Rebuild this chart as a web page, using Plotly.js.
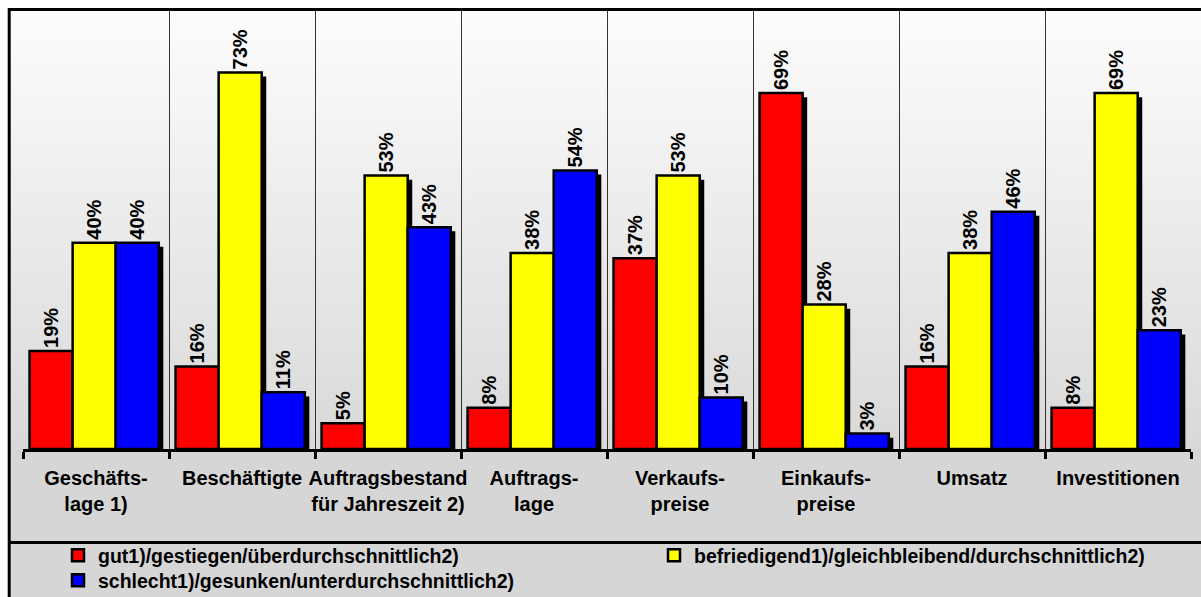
<!DOCTYPE html>
<html><head><meta charset="utf-8">
<script src="https://cdn.plot.ly/plotly-3.0.1.min.js"></script>
<style>html,body{margin:0;padding:0;background:#fff;overflow:hidden}#chart{width:1201px;height:597px}</style>
</head><body><div id="chart"></div>
<script>
// ---- data ----
const categories = ["Geschäfts-<br>lage 1)", "Beschäftigte", "Auftragsbestand<br>für Jahreszeit 2)", "Auftrags-<br>lage", "Verkaufs-<br>preise", "Einkaufs-<br>preise", "Umsatz", "Investitionen"];
const seriesNames = ["gut1)/gestiegen/überdurchschnittlich2)", "befriedigend1)/gleichbleibend/durchschnittlich2)", "schlecht1)/gesunken/unterdurchschnittlich2)"];
const gut = [19, 16, 5, 8, 37, 69, 16, 8];
const befriedigend = [40, 73, 53, 38, 53, 28, 38, 69];
const schlecht = [40, 11, 43, 54, 10, 3, 46, 23];

// ---- style ----
const seriesColors = ["#ff0000", "#ffff00", "#0000ff"];
const seriesLegend = ["legend", "legend2", "legend3"];
const FONT = "Liberation Sans, Arial, sans-serif";
const W = 1201, H = 597;
const M = {l: 23, r: 10, t: 10, b: 148, autoexpand: false};
const PW = W - M.l - M.r, PH = H - M.t - M.b;
const px2x = p => (p - M.l) / PW;
const px2y = p => (H - M.b - p) / PH;
const barW = 0.295;
const offsets = [-0.455, -0.16, 0.135];
const shadowDX = 0.031, shadowDY = 0.8;

const series = [gut, befriedigend, schlecht];
const traces = [];
series.forEach((vals, i) => {
  traces.push({
    type: 'bar', x: categories, y: vals.map(v => Math.max(v - shadowDY, 0)),
    width: barW, offset: offsets[i] + shadowDX,
    marker: {color: '#000', line: {width: 0}},
    showlegend: false, hoverinfo: 'skip'
  });
});
series.forEach((vals, i) => {
  traces.push({
    type: 'bar', name: seriesNames[i], x: categories, y: vals,
    width: barW, offset: offsets[i], legend: seriesLegend[i],
    marker: {color: seriesColors[i], line: {color: '#000', width: 2.5}},
    texttemplate: '%{y}%', textposition: 'outside', textangle: -90, constraintext: 'none',
    textfont: {family: FONT, size: 20, color: '#000', weight: 'bold'},
    cliponaxis: false, hoverinfo: 'skip'
  });
});

// gradient for plot background
const cv = document.createElement('canvas'); cv.width = 4; cv.height = 256;
const ctx = cv.getContext('2d');
const g = ctx.createLinearGradient(0, 0, 0, 256);
g.addColorStop(0, '#fdfdfd'); g.addColorStop(1, '#d9d9d9');
ctx.fillStyle = g; ctx.fillRect(0, 0, 4, 256);
const grad = cv.toDataURL();

const legendFont = {family: FONT, size: 19.5, color: '#000', weight: 'bold'};
const mkLegend = (xp, yp) => ({
  orientation: 'v', x: px2x(xp), xanchor: 'left', y: px2y(yp), yanchor: 'top',
  font: legendFont, bgcolor: 'rgba(0,0,0,0)', traceorder: 'normal'
});
const layout = {
  width: W, height: H, margin: M,
  paper_bgcolor: '#d6d6d6', plot_bgcolor: 'rgba(0,0,0,0)',
  barmode: 'overlay',
  font: {family: FONT, size: 20, color: '#000'},
  xaxis: {
    type: 'category', range: [-0.5, 7.5], tickson: 'boundaries', tickangle: 0,
    ticks: 'outside', ticklen: 7, tickwidth: 3, tickcolor: '#000', ticklabelstandoff: 9,
    showline: true, linecolor: '#000', linewidth: 3,
    showgrid: true, gridcolor: '#333', gridwidth: 1,
    tickfont: {family: FONT, size: 20, color: '#000', weight: 'bold'},
    automargin: false, fixedrange: true
  },
  yaxis: {range: [0, 85.1], showgrid: false, zeroline: false, showticklabels: false, showline: false, ticks: '', automargin: false, fixedrange: true},
  legend: mkLegend(58, 536),
  legend2: mkLegend(654, 536),
  legend3: mkLegend(58, 561),
  images: [{
    source: grad, xref: 'paper', yref: 'paper',
    x: px2x(10), y: px2y(10), sizex: (W - 10) / PW, sizey: (H - M.b - 10) / PH,
    xanchor: 'left', yanchor: 'top', sizing: 'stretch', layer: 'below'
  }],
  shapes: [
    {type: 'rect', xref: 'paper', yref: 'paper', x0: px2x(-5), x1: px2x(W + 5), y0: px2y(8), y1: px2y(-5), fillcolor: '#ffffff', line: {width: 0}, layer: 'below'},
    {type: 'rect', xref: 'paper', yref: 'paper', x0: px2x(-5), x1: px2x(8), y0: px2y(H + 5), y1: px2y(-5), fillcolor: '#ffffff', line: {width: 0}, layer: 'below'},
    {type: 'line', xref: 'paper', yref: 'paper', x0: px2x(9.2), x1: px2x(9.2), y0: px2y(H + 5), y1: px2y(8), line: {color: '#000', width: 3}},
    {type: 'line', xref: 'paper', yref: 'paper', x0: px2x(8), x1: px2x(W + 5), y0: px2y(9.5), y1: px2y(9.5), line: {color: '#000', width: 3}},
    {type: 'line', xref: 'paper', yref: 'paper', x0: px2x(9), x1: px2x(W + 5), y0: px2y(542.5), y1: px2y(542.5), line: {color: '#000', width: 3}}
  ],
  showlegend: true
};
Plotly.newPlot('chart', traces, layout, {displayModeBar: false, staticPlot: true});
</script></body></html>
